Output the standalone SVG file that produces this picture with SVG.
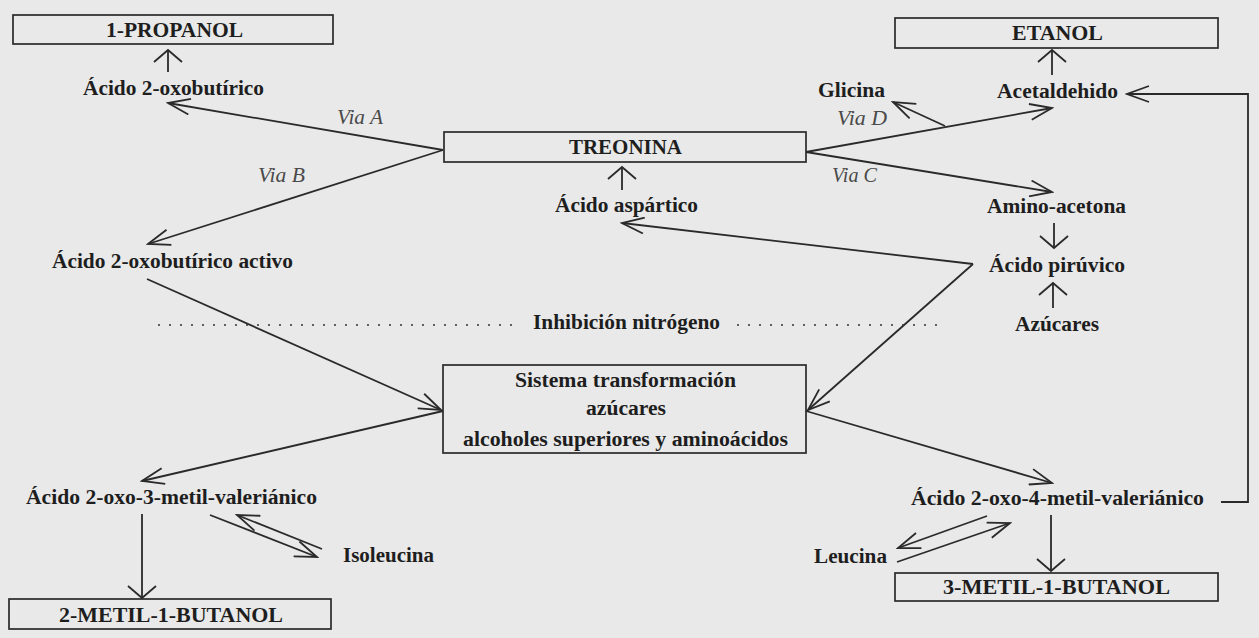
<svg xmlns="http://www.w3.org/2000/svg" width="1259" height="638" viewBox="0 0 1259 638">
<style>
.bg{fill:#e9e9e9}
.box{fill:none;stroke:#2a2a2a;stroke-width:1.7}
.t{font-family:"Liberation Serif","Times New Roman",serif;font-size:20px;font-weight:bold;fill:#1e1e1e;text-anchor:start}
.via{font-family:"Liberation Serif","Times New Roman",serif;font-size:20px;font-style:italic;fill:#4a4a4a}
.ln{stroke:#2a2a2a;stroke-width:1.8;fill:none}
.lv{marker-end:url(#av)}
.ll{marker-end:url(#al)}
.dot{stroke:#333;stroke-width:2;stroke-dasharray:0 11;stroke-linecap:round;fill:none}
</style>
<defs>
<marker id="av" viewBox="0 0 16 30" refX="14" refY="15" markerWidth="16" markerHeight="30" orient="auto" markerUnits="userSpaceOnUse">
<path d="M2,1 L14,15 L2,29" fill="none" stroke="#2a2a2a" stroke-width="1.8"/>
</marker>
<marker id="al" viewBox="0 0 26 18" refX="24" refY="9" markerWidth="26" markerHeight="18" orient="auto" markerUnits="userSpaceOnUse">
<path d="M2,1 L24,9 L2,17" fill="none" stroke="#2a2a2a" stroke-width="1.8"/>
</marker>
</defs>
<rect class="bg" x="0" y="0" width="1259" height="638"/>

<g id="connectors">
<line class="ln ll" x1="443" y1="150" x2="168" y2="103"/>
<line class="ln ll" x1="443" y1="150" x2="148" y2="244"/>
<line class="ln lv" x1="168" y1="72" x2="168" y2="50"/>
<line class="ln ll" x1="147" y1="279" x2="441" y2="410"/>
<line class="ln ll" x1="443" y1="411" x2="142" y2="481"/>
<line class="ln lv" x1="142" y1="514" x2="142" y2="598"/>
<line class="ln ll" x1="322" y1="549" x2="237" y2="515"/>
<line class="ln ll" x1="210" y1="515" x2="317" y2="557"/>
<line class="ln lv" x1="622" y1="190" x2="622" y2="167"/>
<line class="ln ll" x1="973" y1="264" x2="622" y2="223"/>
<line class="ln ll" x1="973" y1="264" x2="808" y2="410"/>
<line class="ln ll" x1="806" y1="152" x2="1052" y2="108"/>
<line class="ln ll" x1="945" y1="126" x2="893" y2="102"/>
<line class="ln ll" x1="806" y1="152" x2="1052" y2="192"/>
<line class="ln lv" x1="1052" y1="75" x2="1052" y2="50"/>
<line class="ln lv" x1="1054" y1="223" x2="1054" y2="248"/>
<line class="ln lv" x1="1053" y1="308" x2="1053" y2="283"/>
<line class="ln ll" x1="806" y1="411" x2="1052" y2="483"/>
<line class="ln lv" x1="1051" y1="515" x2="1051" y2="571"/>
<line class="ln ll" x1="987" y1="516" x2="898" y2="548"/>
<line class="ln ll" x1="897" y1="562" x2="1010" y2="523"/>
<polyline class="ln ll" points="1221,502 1248,502 1248,94 1127,94"/>
<line class="dot" x1="159" y1="325" x2="515" y2="325"/>
<line class="dot" x1="738" y1="325" x2="938" y2="325"/>
</g>

<g id="n-propanol">
<rect class="box" x="13" y="15" width="320" height="29"/>
<text class="t" x="106" y="37" textLength="137" lengthAdjust="spacingAndGlyphs">1-PROPANOL</text>
</g>
<g id="n-etanol">
<rect class="box" x="895" y="18" width="323" height="30"/>
<text class="t" x="1012" y="40" textLength="91" lengthAdjust="spacingAndGlyphs">ETANOL</text>
</g>
<g id="n-treonina">
<rect class="box" x="444" y="132" width="362" height="30"/>
<text class="t" x="569" y="154" textLength="113" lengthAdjust="spacingAndGlyphs">TREONINA</text>
</g>
<g id="n-sistema">
<rect class="box" x="443" y="365" width="363" height="88"/>
<text class="t" x="515" y="387" textLength="221" lengthAdjust="spacingAndGlyphs">Sistema transformación</text>
<text class="t" x="586" y="415" textLength="80" lengthAdjust="spacingAndGlyphs">azúcares</text>
<text class="t" x="463" y="446" textLength="325" lengthAdjust="spacingAndGlyphs">alcoholes superiores y aminoácidos</text>
</g>
<g id="n-2metil">
<rect class="box" x="9" y="599" width="322" height="30"/>
<text class="t" x="59" y="622" textLength="224" lengthAdjust="spacingAndGlyphs">2-METIL-1-BUTANOL</text>
</g>
<g id="n-3metil">
<rect class="box" x="895" y="573" width="323" height="28"/>
<text class="t" x="943" y="594" textLength="227" lengthAdjust="spacingAndGlyphs">3-METIL-1-BUTANOL</text>
</g>
<g id="n-oxobutirico">
<text class="t" x="83" y="95" textLength="181" lengthAdjust="spacingAndGlyphs">Ácido 2-oxobutírico</text>
</g>
<g id="n-oxobutirico-activo">
<text class="t" x="52" y="268" textLength="241" lengthAdjust="spacingAndGlyphs">Ácido 2-oxobutírico activo</text>
</g>
<g id="n-aspartico">
<text class="t" x="555" y="212" textLength="143" lengthAdjust="spacingAndGlyphs">Ácido aspártico</text>
</g>
<g id="n-acetaldehido">
<text class="t" x="997" y="98" textLength="121" lengthAdjust="spacingAndGlyphs">Acetaldehido</text>
</g>
<g id="n-glicina">
<text class="t" x="818" y="97" textLength="67" lengthAdjust="spacingAndGlyphs">Glicina</text>
</g>
<g id="n-aminoacetona">
<text class="t" x="987" y="213" textLength="139" lengthAdjust="spacingAndGlyphs">Amino-acetona</text>
</g>
<g id="n-piruvico">
<text class="t" x="989" y="272" textLength="136" lengthAdjust="spacingAndGlyphs">Ácido pirúvico</text>
</g>
<g id="n-azucares">
<text class="t" x="1015" y="331" textLength="84" lengthAdjust="spacingAndGlyphs">Azúcares</text>
</g>
<g id="n-inhibicion">
<text class="t" x="533" y="329" textLength="187" lengthAdjust="spacingAndGlyphs">Inhibición nitrógeno</text>
</g>
<g id="n-oxo3">
<text class="t" x="26" y="504" textLength="291" lengthAdjust="spacingAndGlyphs">Ácido 2-oxo-3-metil-valeriánico</text>
</g>
<g id="n-isoleucina">
<text class="t" x="343" y="562" textLength="91" lengthAdjust="spacingAndGlyphs">Isoleucina</text>
</g>
<g id="n-oxo4">
<text class="t" x="911" y="505" textLength="293" lengthAdjust="spacingAndGlyphs">Ácido 2-oxo-4-metil-valeriánico</text>
</g>
<g id="n-leucina">
<text class="t" x="814" y="563" textLength="73" lengthAdjust="spacingAndGlyphs">Leucina</text>
</g>
<g id="labels">
<text class="via" x="337" y="124" textLength="46" lengthAdjust="spacingAndGlyphs">Via A</text>
<text class="via" x="258" y="182" textLength="47" lengthAdjust="spacingAndGlyphs">Via B</text>
<text class="via" x="832" y="182" textLength="45" lengthAdjust="spacingAndGlyphs">Via C</text>
<text class="via" x="837" y="125" textLength="50" lengthAdjust="spacingAndGlyphs">Via D</text>
</g>
</svg>
